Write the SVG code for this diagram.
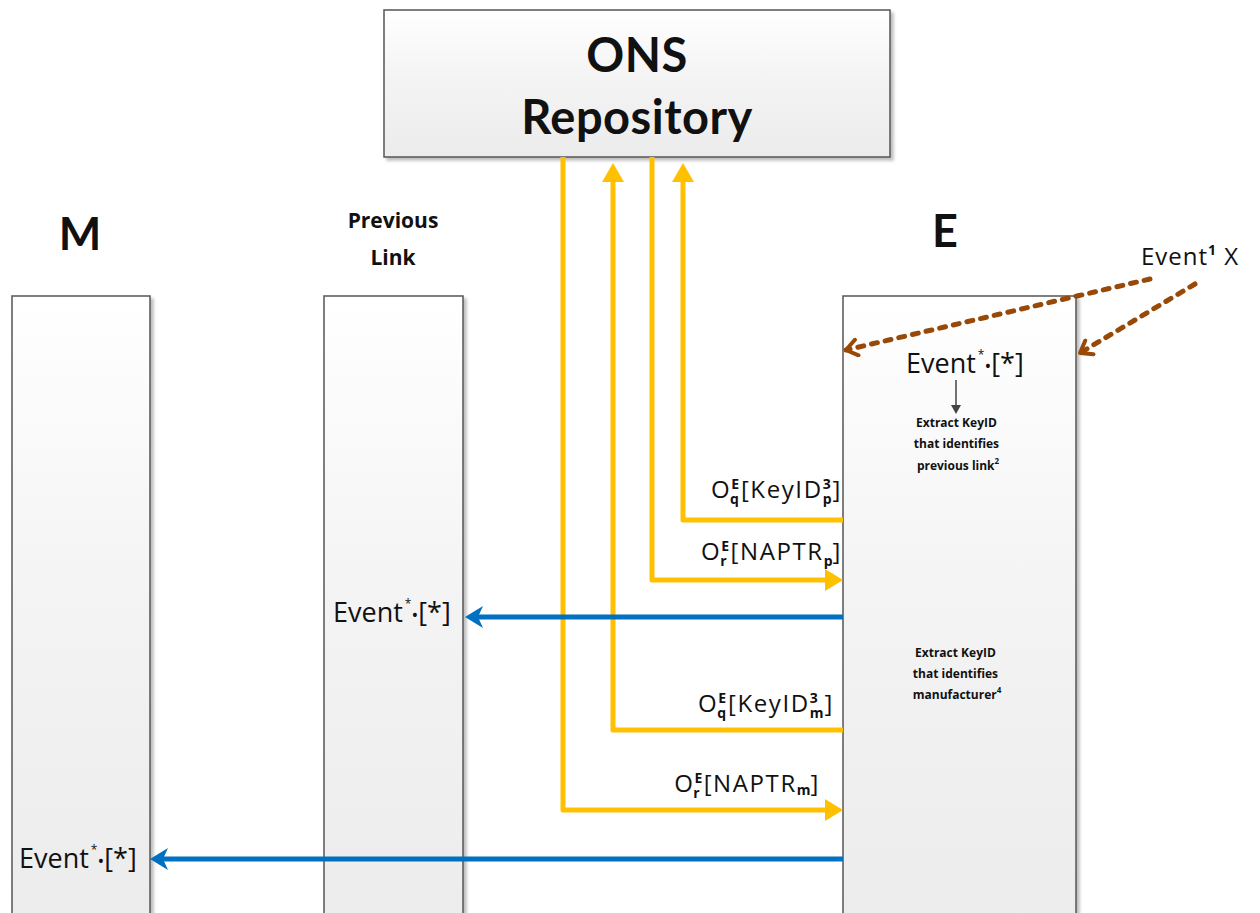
<svg xmlns="http://www.w3.org/2000/svg" width="1260" height="913" viewBox="0 0 1260 913">
<defs>
<linearGradient id="g" x1="0" y1="0" x2="0" y2="1"><stop offset="0" stop-color="#ffffff"/><stop offset="1" stop-color="#ececec"/></linearGradient>
<linearGradient id="gl" x1="0" y1="0" x2="0" y2="1"><stop offset="0" stop-color="#ffffff"/><stop offset="0.5" stop-color="#f3f3f3"/><stop offset="1" stop-color="#ececec"/></linearGradient>
<marker id="ad" viewBox="-16 -10 20 20" refX="0" refY="0" markerWidth="20" markerHeight="20" orient="auto" markerUnits="userSpaceOnUse">
<polyline points="-11,-8 0,0 -11,8" fill="none" stroke="#984807" stroke-width="4" stroke-linecap="round" stroke-linejoin="round"/>
</marker>
<filter id="sh" x="-5%" y="-5%" width="115%" height="115%"><feDropShadow dx="3" dy="3" stdDeviation="1.5" flood-color="#000" flood-opacity="0.25"/></filter>
</defs>
<style>
.box{fill:url(#gl);stroke:#555;stroke-width:1.5;filter:url(#sh)}
.t{font-family:"Open Sans","Liberation Sans",sans-serif;fill:#111}
.h{font-family:"Lato","Open Sans","Liberation Sans",sans-serif;fill:#111;font-weight:bold}
.o{fill:none;stroke:#FFC000;stroke-width:5;stroke-linejoin:round}
.b{fill:none;stroke:#0070C0;stroke-width:5}
.d{fill:none;stroke:#984807;stroke-width:5;stroke-dasharray:6 8;stroke-linecap:round}
.lab{font-size:24px;letter-spacing:1.6px}
.sm{font-size:14px;font-weight:bold;letter-spacing:0}
.ev{font-size:27px}
.st{font-size:12px}
.dt{font-size:18px}
.x{font-size:12px;font-weight:bold}
</style>
<rect width="1260" height="913" fill="#fff"/>
<g id="ons">
<rect class="box" x="384" y="10" width="506" height="147" fill="url(#g)"/>
<text class="h" x="637" y="72" font-size="47" letter-spacing="0.5" text-anchor="middle">ONS</text>
<text class="h" x="637" y="134" font-size="47" letter-spacing="0.5" text-anchor="middle">Repository</text>
</g>
<g id="M">
<text class="h" x="80" y="250" font-size="45" text-anchor="middle">M</text>
<rect class="box" x="12" y="296" width="138" height="630"/>
<text class="t ev" x="19" y="868">Event<tspan class="st" dy="-14" dx="2">*</tspan><tspan class="dt" dy="14">•</tspan>[*]</text>
</g>
<g id="previous-link">
<text class="t" x="393" y="228" font-size="21" font-weight="bold" text-anchor="middle">Previous</text>
<text class="t" x="393" y="265" font-size="21" font-weight="bold" text-anchor="middle">Link</text>
<rect class="box" x="324" y="296" width="139" height="630"/>
<text class="t ev" x="333" y="622">Event<tspan class="st" dy="-14" dx="2">*</tspan><tspan class="dt" dy="14">•</tspan>[*]</text>
</g>
<g id="E">
<text class="h" x="945" y="247" font-size="45" text-anchor="middle">E</text>
<rect class="box" x="843" y="296" width="233" height="630"/>
<text class="t ev" x="906" y="373">Event<tspan class="st" dy="-14" dx="2">*</tspan><tspan class="dt" dy="14">•</tspan>[*]</text>
<line x1="956" y1="380" x2="956" y2="408" stroke="#444" stroke-width="1.5"/>
<path d="M951,405 L956,414 L961,405 Z" fill="#444"/>
<text class="t x" text-anchor="middle">
<tspan x="958" y="427">Extract KeyID</tspan>
<tspan x="958" y="448">that identifies</tspan>
<tspan x="958" y="470">previous link<tspan font-size="8" dy="-6">2</tspan></tspan>
</text>
<text class="t x" text-anchor="middle">
<tspan x="957" y="657">Extract KeyID</tspan>
<tspan x="957" y="678">that identifies</tspan>
<tspan x="957" y="699">manufacturer<tspan font-size="8" dy="-6">4</tspan></tspan>
</text>
</g>
<g id="event-x">
<text class="t" x="1141" y="265" font-size="24" letter-spacing="1">Event<tspan font-size="14" font-weight="bold" dy="-10">1</tspan><tspan dy="10"> X</tspan></text>
</g>
<g id="connectors">
<polyline class="o" points="563,157 563,810 828,810"/>
<path d="M843,810 L825,799 L825,821 Z" fill="#FFC000"/>
<polyline class="o" points="843,730 613,730 613,180"/>
<path d="M613,163 L602,182 L624,182 Z" fill="#FFC000"/>
<polyline class="o" points="652,157 652,580 828,580"/>
<path d="M843,580 L825,569 L825,591 Z" fill="#FFC000"/>
<polyline class="o" points="843,520 683,520 683,180"/>
<path d="M683,163 L672,182 L694,182 Z" fill="#FFC000"/>
<line class="b" x1="843" y1="617" x2="472" y2="617"/>
<path d="M465,617 L483,606 L478,617 L483,628 Z" fill="#0070C0"/>
<line class="b" x1="843" y1="859" x2="157" y2="859"/>
<path d="M150,859 L168,848 L163,859 L168,870 Z" fill="#0070C0"/>
<line class="d" x1="1150" y1="279" x2="846" y2="350" marker-end="url(#ad)"/>
<line class="d" x1="1195" y1="284" x2="1080" y2="353" marker-end="url(#ad)"/>
</g>
<g id="labels">
<text class="t lab" x="842" y="498" text-anchor="end">O<tspan class="sm" dy="-9">E</tspan><tspan class="sm" dx="-9" dy="15">q</tspan><tspan dy="-6" dx="2">[KeyID</tspan><tspan class="sm" dy="-9">3</tspan><tspan class="sm" dx="-8" dy="15">p</tspan><tspan dy="-6" dx="1">]</tspan></text>
<text class="t lab" x="842" y="560" text-anchor="end">O<tspan class="sm" dy="-9">E</tspan><tspan class="sm" dx="-9" dy="15">r</tspan><tspan dy="-6" dx="4">[NAPTR</tspan><tspan class="sm" dy="6">p</tspan><tspan dy="-6">]</tspan></text>
<text class="t lab" x="834" y="712" text-anchor="end">O<tspan class="sm" dy="-9">E</tspan><tspan class="sm" dx="-9" dy="15">q</tspan><tspan dy="-6" dx="2">[KeyID</tspan><tspan class="sm" dy="-9">3</tspan><tspan class="sm" dx="-8" dy="15">m</tspan><tspan dy="-6" dx="1">]</tspan></text>
<text class="t lab" x="820" y="792" text-anchor="end">O<tspan class="sm" dy="-9">E</tspan><tspan class="sm" dx="-9" dy="15">r</tspan><tspan dy="-6" dx="4">[NAPTR</tspan><tspan class="sm" dy="3">m</tspan><tspan dy="-3">]</tspan></text>
</g>
</svg>
